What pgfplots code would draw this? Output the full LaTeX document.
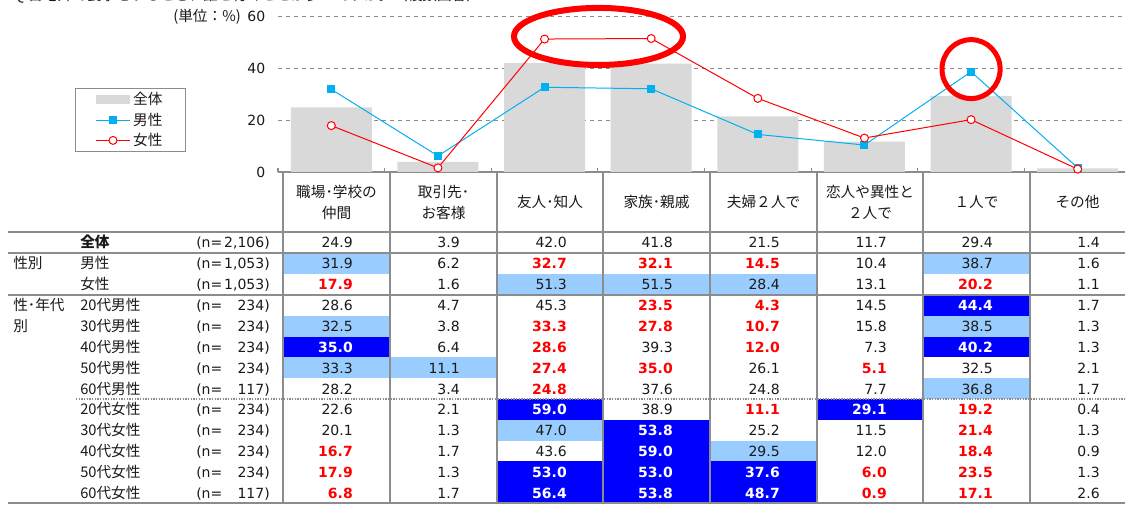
\documentclass[border=0pt]{standalone}
\usepackage{pgfplots}
\pgfplotsset{compat=1.18}
\usepackage{fontspec}
\setmainfont{Noto Sans CJK JP}
\newfontfamily\num{DejaVu Sans}
\definecolor{barg}{HTML}{D9D9D9}
\definecolor{mcol}{HTML}{00B0F0}
\definecolor{fcol}{HTML}{FF0000}
\definecolor{lb}{HTML}{99CCFF}
\definecolor{db}{HTML}{0000FF}
\definecolor{lg}{HTML}{8C8C8C}
\definecolor{tx}{HTML}{1A1A1A}
\newcommand\jfs{\fontsize{11}{13}\selectfont}
\newcommand\nfs{\num\fontsize{10.5}{12}\selectfont}

\newcommand\cell[4]{%
  \pgfmathsetmacro\xa{{283,390,497,603,710,817,923,1030}[#1]}%
  \pgfmathsetmacro\xb{{390,497,603,710,817,923,1030,1125}[#1]}%
  \pgfmathsetmacro\ya{{232,253,274,295,315.8,336.6,357.4,378.2,399,419.8,440.6,461.4,482.2}[#2]}%
  \pgfmathsetmacro\yb{{253,274,295,315.8,336.6,357.4,378.2,399,419.8,440.6,461.4,482.2,503}[#2]}%
  \pgfmathsetmacro\yc{(\ya+\yb)/2+5.5}%
  \pgfmathsetmacro\xr{\xa+70}%
  \if#4l\fill[lb] (\xa,\ya) rectangle (\xb,\yb);\fi
  \if#4b\fill[db] (\xa,\ya) rectangle (\xb,\yb);\fi
  \if#4r\node[anchor=base east,inner sep=0pt,text=fcol,font=\nfs\bfseries] at (\xr,\yc) {#3};%
  \else\if#4b\node[anchor=base east,inner sep=0pt,text=white,font=\nfs\bfseries] at (\xr,\yc) {#3};%
  \else\node[anchor=base east,inner sep=0pt,text=tx,font=\nfs] at (\xr,\yc) {#3};%
  \fi\fi
}
\newcommand\tblrow[2]{\foreach \v/\s [count=\c from 0] in {#2}{\cell{\c}{#1}{\v}{\s}}}

\begin{document}
\begin{tikzpicture}
\useasboundingbox (0pt,0pt) rectangle (843.75pt,-378.75pt);
\clip (0pt,0pt) rectangle (843.75pt,-378.75pt);
\fill[white] (0pt,0pt) rectangle (843.75pt,-378.75pt);

\begin{axis}[
  at={(208.5pt,-129pt)}, anchor=south west,
  scale only axis, width=639.75pt, height=116.625pt,
  xmin=-0.5, xmax=7.5, ymin=0, ymax=60,
  clip=false,
  axis x line*=bottom, axis y line*=left,
  x axis line style={lg, line width=0.9pt, -},
  y axis line style={draw=none},
  xtick={-0.5,0.5,...,7.5}, xticklabels={},
  xtick style={lg, line width=0.9pt}, major tick length=3pt,
  ytick={0,20,40,60}, yticklabels={0,20,40,60},
  ytick style={draw=none},
  yticklabel style={font=\nfs, text=tx, xshift=-6pt},
  ymajorgrids, grid style={lg, dashed, line width=0.6pt},
  legend image code/.code={\draw[mark repeat=2,mark phase=2,#1] plot coordinates {(0pt,0pt) (12.75pt,0pt) (25.5pt,0pt)};},
  legend style={at={(-0.238,0.540)}, anchor=north west, draw=lg, line width=0.8pt, fill=white,
    font=\jfs, text=tx, inner xsep=15pt, inner ysep=2pt, row sep=2.5pt,
    nodes={inner ysep=1pt, inner xsep=2pt}},
  legend cell align=left,
]
\addplot[ybar, bar width=0.76, fill=barg, draw=none,
  legend image code/.code={\fill[barg] (0pt,-3.5pt) rectangle (25.5pt,3.5pt);}]
  coordinates {(0,24.9)(1,3.9)(2,42.0)(3,41.8)(4,21.5)(5,11.7)(6,29.4)(7,1.4)};
\addlegendentry{全体}
\addplot[mcol, line width=0.75pt, mark=square*, mark size=2.6pt, mark options={fill=mcol, draw=mcol}]
  coordinates {(0,31.9)(1,6.2)(2,32.7)(3,32.1)(4,14.5)(5,10.4)(6,38.7)(7,1.6)};
\addlegendentry{男性}
\addplot[fcol, line width=0.75pt, mark=*, mark size=3pt, mark options={fill=white, draw=fcol, line width=0.75pt}]
  coordinates {(0,17.9)(1,1.6)(2,51.3)(3,51.5)(4,28.4)(5,13.1)(6,20.2)(7,1.1)};
\addlegendentry{女性}
\draw[fcol, line width=4.5pt] (axis cs:2.506,52.3) ellipse [x radius=63.4pt, y radius=21.4pt];
\draw[fcol, line width=3.75pt] (axis cs:6.0,39.7) ellipse [x radius=21.8pt, y radius=22.1pt];
\end{axis}

\begin{scope}[x=0.75pt,y=-0.75pt]
% title (cut off at top)
\node[anchor=base west, inner sep=0pt, font=\jfs, text=tx] at (13,1) {Q.自宅外で食事をするとき、誰と行くことが多いですか。（複数回答）};
\node[anchor=east, inner sep=0pt, font=\jfs, text=tx] at (241,17) {(単位：\%)};

% header
\foreach \x/\a/\b in {336.5/職場･学校の/仲間, 443.5/取引先･/お客様, 870/恋人や異性と/２人で}{
  \node[anchor=base, inner sep=0pt, font=\jfs, text=tx] at (\x,197.5) {\a};
  \node[anchor=base, inner sep=0pt, font=\jfs, text=tx] at (\x,218.5) {\b};
}
\foreach \x/\a in {550/友人･知人, 656.5/家族･親戚, 763.5/夫婦２人で, 976.5/１人で, 1077.5/その他}{
  \node[anchor=base, inner sep=0pt, font=\jfs, text=tx] at (\x,208) {\a};
}

% left labels
\node[anchor=base west, inner sep=0pt, font=\jfs\bfseries, text=tx] at (80,248) {全体};
\node[anchor=base west, inner sep=0pt, font=\jfs, text=tx] at (13,269) {性別};
\node[anchor=base west, inner sep=0pt, font=\jfs, text=tx] at (13,310.9) {性･年代};
\node[anchor=base west, inner sep=0pt, font=\jfs, text=tx] at (13,331.7) {別};
\foreach \y/\lab/\n in {248/{}/2{,}106, 269/男性/1{,}053, 290/女性/1{,}053,
  310.9/20代男性/234, 331.7/30代男性/234, 352.5/40代男性/234, 373.3/50代男性/234, 394.1/60代男性/117,
  414.9/20代女性/234, 435.7/30代女性/234, 456.5/40代女性/234, 477.3/50代女性/234, 498.1/60代女性/117}{
  \node[anchor=base west, inner sep=0pt, font=\jfs, text=tx] at (80,\y) {\lab};
  \node[anchor=base west, inner sep=0pt, font=\nfs, text=tx] at (196,\y) {(n=};
  \node[anchor=base east, inner sep=0pt, font=\nfs, text=tx] at (270,\y) {\n)};
}

% cells
\tblrow{0}{24.9/n,3.9/n,42.0/n,41.8/n,21.5/n,11.7/n,29.4/n,1.4/n}
\tblrow{1}{31.9/l,6.2/n,32.7/r,32.1/r,14.5/r,10.4/n,38.7/l,1.6/n}
\tblrow{2}{17.9/r,1.6/n,51.3/l,51.5/l,28.4/l,13.1/n,20.2/r,1.1/n}
\tblrow{3}{28.6/n,4.7/n,45.3/n,23.5/r,4.3/r,14.5/n,44.4/b,1.7/n}
\tblrow{4}{32.5/l,3.8/n,33.3/r,27.8/r,10.7/r,15.8/n,38.5/l,1.3/n}
\tblrow{5}{35.0/b,6.4/n,28.6/r,39.3/n,12.0/r,7.3/n,40.2/b,1.3/n}
\tblrow{6}{33.3/l,11.1/l,27.4/r,35.0/r,26.1/n,5.1/r,32.5/n,2.1/n}
\tblrow{7}{28.2/n,3.4/n,24.8/r,37.6/n,24.8/n,7.7/n,36.8/l,1.7/n}
\tblrow{8}{22.6/n,2.1/n,59.0/b,38.9/n,11.1/r,29.1/b,19.2/r,0.4/n}
\tblrow{9}{20.1/n,1.3/n,47.0/l,53.8/b,25.2/n,11.5/n,21.4/r,1.3/n}
\tblrow{10}{16.7/r,1.7/n,43.6/n,59.0/b,29.5/l,12.0/n,18.4/r,0.9/n}
\tblrow{11}{17.9/r,1.3/n,53.0/b,53.0/b,37.6/b,6.0/r,23.5/r,1.3/n}
\tblrow{12}{6.8/r,1.7/n,56.4/b,53.8/b,48.7/b,0.9/r,17.1/r,2.6/n}

% lines
\foreach \y in {232,253,295,503}{\draw[lg, line width=1.2pt] (8,\y) -- (1125,\y);}
\draw[lg, line width=1.6pt, dash pattern=on 1pt off 1pt] (76,399) -- (1125,399);
\foreach \x in {283,390,497,603,710,817,923,1030}{\draw[lg, line width=1.2pt] (\x,172) -- (\x,503);}
\end{scope}
\end{tikzpicture}
\end{document}
